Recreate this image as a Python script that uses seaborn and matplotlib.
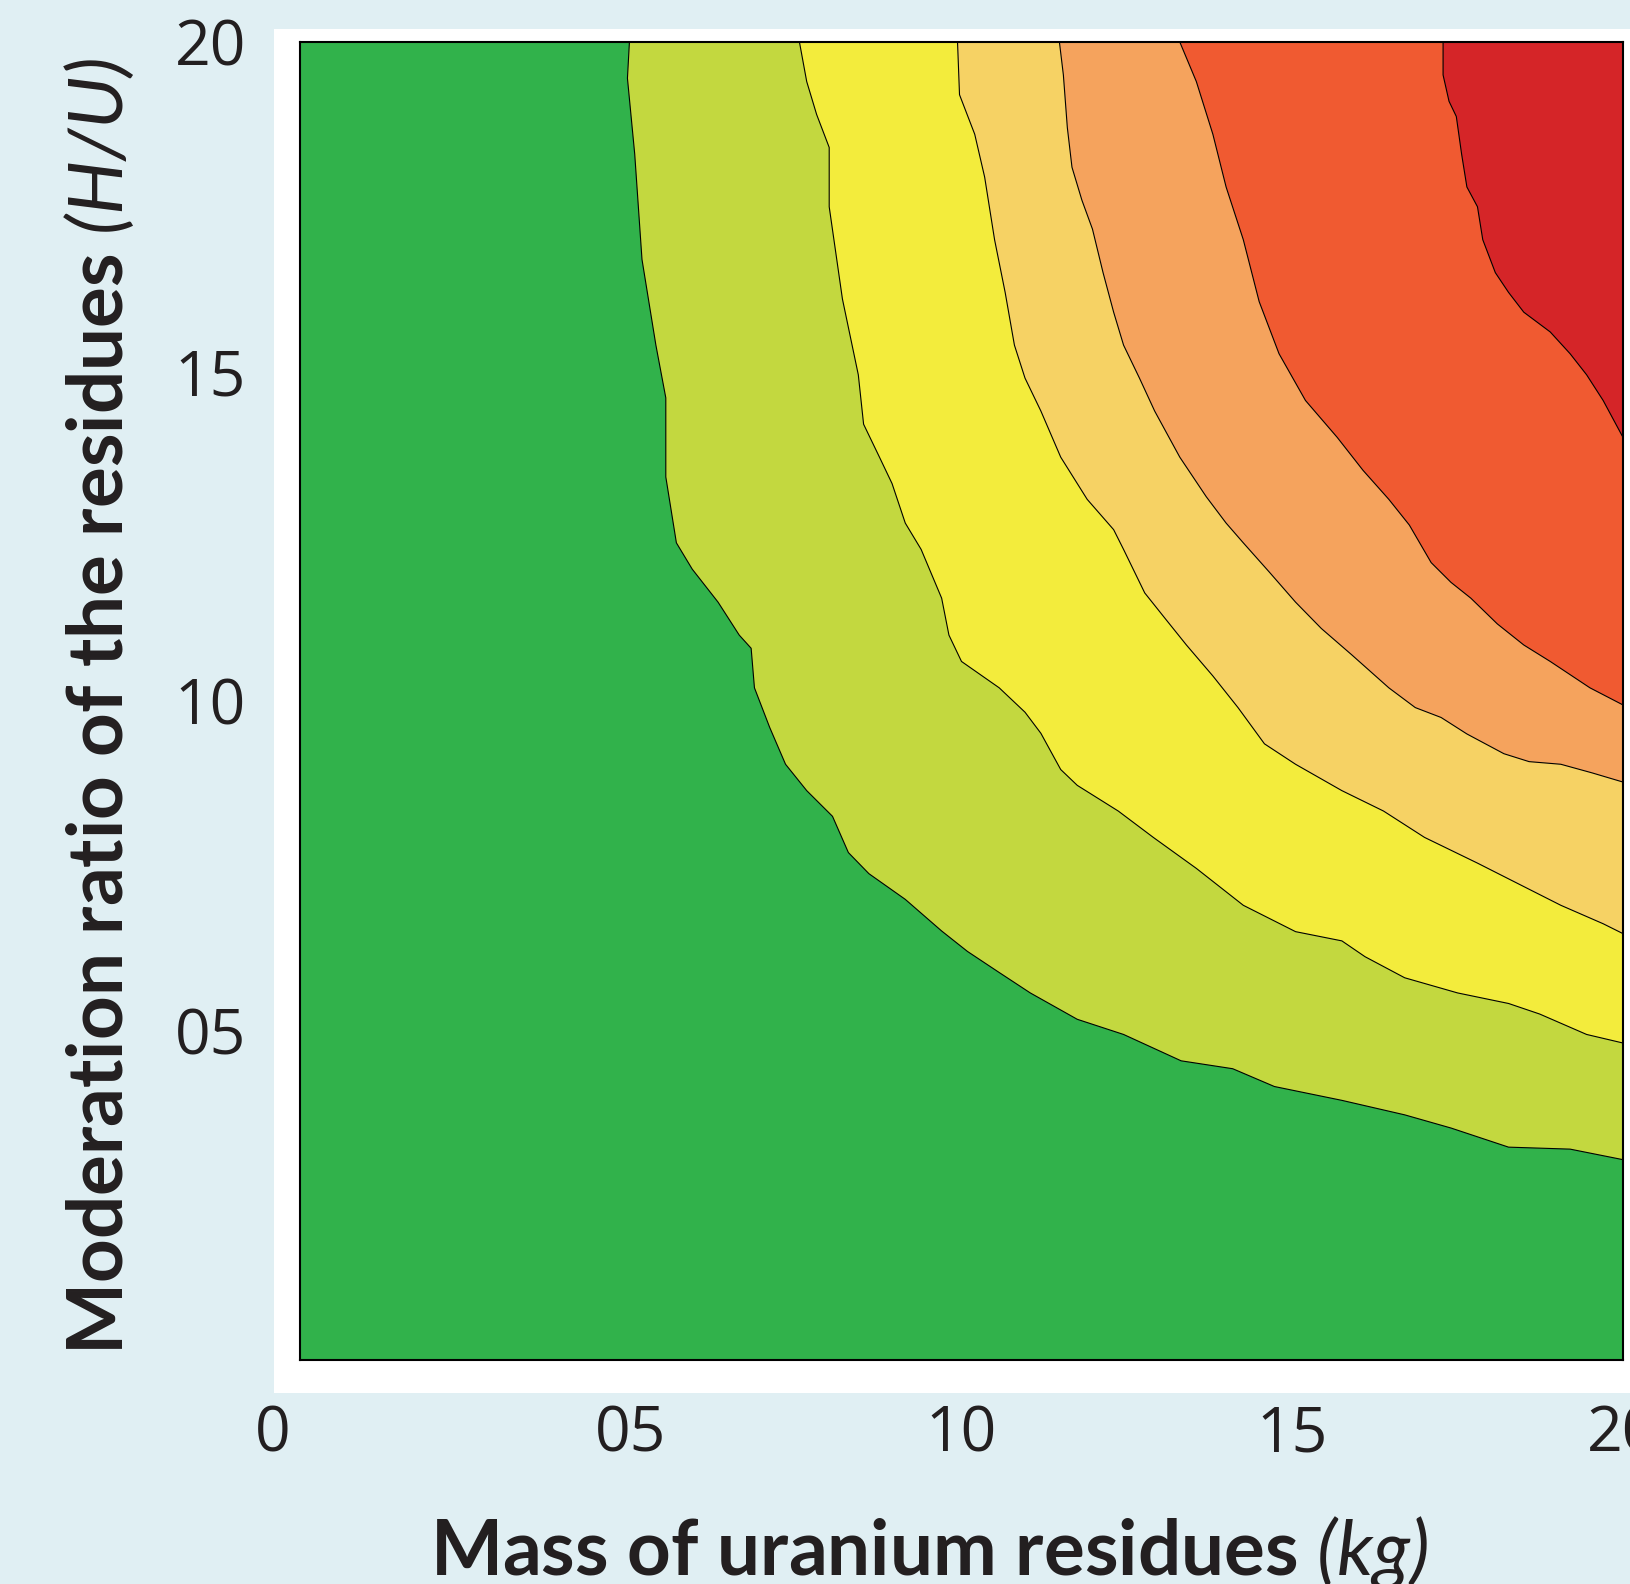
import matplotlib
matplotlib.use('Agg')
import matplotlib.pyplot as plt
import matplotlib.transforms as mtransforms
import seaborn as sns
from matplotlib.patches import Rectangle

# Boundaries between zones: mass (kg) vs moderation ratio (H/U)
b1_mass = [4.98, 4.95, 5.06, 5.17, 5.38, 5.53, 5.53, 5.69, 5.93, 6.32, 6.64, 6.82, 6.87, 7.10, 7.34, 7.66,
           8.05, 8.29, 8.60, 9.15, 9.70, 10.09, 10.57, 11.04, 11.75, 12.45, 13.32, 14.10, 14.73, 15.75,
           16.70, 17.40, 18.27, 19.20, 20.0]
b1_hu = [20.0, 19.45, 18.3, 16.7, 15.4, 14.6, 13.4, 12.4, 12.0, 11.5, 11.0, 10.8, 10.2, 9.6, 9.04, 8.64,
         8.25, 7.70, 7.38, 6.99, 6.51, 6.2, 5.88, 5.57, 5.17, 4.94, 4.54, 4.42, 4.15, 3.94,
         3.72, 3.52, 3.23, 3.2, 3.04]

b2_mass = [7.55, 7.66, 7.81, 8.0, 8.0, 8.2, 8.44, 8.52, 8.76, 8.95, 9.15, 9.39, 9.70, 9.81, 10.0, 10.57,
           10.96, 11.2, 11.5, 11.75, 12.37, 12.9, 13.55, 14.26, 15.05, 15.75, 16.1, 16.7, 17.5, 18.27,
           18.74, 19.45, 20.0]
b2_hu = [20.0, 19.4, 18.9, 18.4, 17.5, 16.1, 14.95, 14.2, 13.7, 13.3, 12.7, 12.3, 11.56, 11.0, 10.6, 10.2,
         9.83, 9.51, 8.96, 8.72, 8.33, 7.93, 7.46, 6.9, 6.5, 6.36, 6.12, 5.8, 5.57, 5.41,
         5.25, 4.94, 4.81]

b3_mass = [9.94, 9.97, 10.2, 10.35, 10.5, 10.66, 10.8, 10.96, 11.2, 11.5, 11.9, 12.3, 12.45, 12.77, 13.08,
           13.4, 13.8, 14.18, 14.58, 15.05, 15.75, 16.38, 17.0, 17.8, 18.43, 19.06, 19.7, 20.0]
b3_hu = [20.0, 19.2, 18.6, 17.95, 17.0, 16.2, 15.4, 14.9, 14.4, 13.7, 13.06, 12.6, 12.3, 11.64, 11.25,
         10.85, 10.38, 9.9, 9.35, 9.04, 8.64, 8.33, 7.93, 7.54, 7.22, 6.9, 6.62, 6.47]

b4_mass = [11.48, 11.54, 11.6, 11.67, 11.82, 11.98, 12.14, 12.3, 12.45, 12.69, 12.92, 13.3, 13.7, 14.0,
           14.26, 14.65, 15.05, 15.44, 15.9, 16.46, 16.86, 17.25, 17.64, 18.2, 18.58, 19.06, 19.53, 20.0]
b4_hu = [20.0, 19.5, 18.7, 18.1, 17.6, 17.16, 16.5, 15.9, 15.4, 14.9, 14.4, 13.7, 13.1, 12.7,
         12.4, 11.96, 11.5, 11.1, 10.7, 10.2, 9.9, 9.75, 9.5, 9.2, 9.08, 9.04, 8.91, 8.77]

b5_mass = [13.3, 13.55, 13.8, 14.0, 14.26, 14.5, 14.8, 15.2, 15.68, 16.07, 16.46, 16.77, 17.1, 17.4,
           17.7, 18.1, 18.5, 18.9, 19.2, 19.5, 20.0]
b5_hu = [20.0, 19.4, 18.6, 17.8, 17.0, 16.06, 15.27, 14.56, 14.0, 13.5, 13.06, 12.67, 12.1, 11.8,
         11.56, 11.17, 10.85, 10.6, 10.4, 10.2, 9.94]

b6_mass = [17.28, 17.28, 17.37, 17.48, 17.56, 17.64, 17.8, 17.88, 18.07, 18.27, 18.5, 18.9, 19.2,
           19.45, 19.7, 20.0]
b6_hu = [20.0, 19.5, 19.1, 18.87, 18.3, 17.8, 17.5, 17.0, 16.5, 16.2, 15.9, 15.6, 15.27,
         14.95, 14.56, 14.0]

zone_colors = ['#31b24b', '#c3d83f', '#f3ec3c', '#f6d264', '#f5a35d', '#f05a31', '#d52528']
tick_vals = [0, 5, 10, 15, 20]
x_tick_labels = ['0', '05', '10', '15', '20']
y_tick_labels = ['', '05', '10', '15', '20']

sns.set_theme(style='white')
plt.rcParams['font.family'] = ['Open Sans', 'DejaVu Sans']
plt.rcParams['mathtext.fontset'] = 'custom'
plt.rcParams['mathtext.it'] = 'Lato:italic'
plt.rcParams['mathtext.rm'] = 'Lato:italic'

bg = '#e0eff3'
fig = plt.figure(figsize=(16.3, 15.84), dpi=100, facecolor=bg)
# white panel behind the plot
fig.patches.append(Rectangle((274 / 1630, 1 - 1393 / 1584), (1630 - 274) / 1630, (1393 - 29) / 1584,
                             transform=fig.transFigure, facecolor='white', edgecolor='none', zorder=-5))
ax = fig.add_axes([300 / 1630, 1 - 1360 / 1584, 1323 / 1630, 1318 / 1584])
ax.set_zorder(2)
ax.set_facecolor(zone_colors[0])

boundaries = [(b1_mass, b1_hu), (b2_mass, b2_hu), (b3_mass, b3_hu),
              (b4_mass, b4_hu), (b5_mass, b5_hu), (b6_mass, b6_hu)]

# nested zones: each fills from its boundary to the top-right corner
for (xs, ys), col in zip(boundaries, zone_colors[1:]):
    ax.fill(xs + [20], ys + [20], color=col, lw=0)

for xs, ys in boundaries:
    sns.lineplot(x=xs, y=ys, sort=False, estimator=None, color='black', lw=0.8, ax=ax)

ax.set_xlim(0, 20)
ax.set_ylim(0, 20)
ax.set_xticks(tick_vals)
ax.set_xticklabels(x_tick_labels)
ax.set_yticks(tick_vals)
ax.set_yticklabels(y_tick_labels)
ax.tick_params(direction='out', length=12, width=1.2, colors='black', labelcolor='#231f20',
               labelsize=45)
ax.tick_params(axis='x', pad=20)
ax.tick_params(axis='y', pad=27)
for s in ax.spines.values():
    s.set_color('black')
    s.set_linewidth(1.5)

# the "0" sits a little left of its tick in the original
zero_lab = ax.get_xticklabels()[0]
zero_lab.set_transform(zero_lab.get_transform()
                       + mtransforms.ScaledTranslation(-0.27, 0, fig.dpi_scale_trans))

label_font = dict(family=['Lato', 'DejaVu Sans'], fontsize=55, fontweight='bold', color='#231f20')
fig.text(929 / 1630, (1584 - 1575) / 1584, r'Mass of uranium residues $(kg)$',
         ha='center', va='baseline', **label_font)
fig.text(99 / 1630, 1 - 706 / 1584, r'Moderation ratio of the residues $(H/U)$',
         ha='center', va='center', rotation=90, **label_font)

fig.savefig('out.png', dpi=100, facecolor=bg)
